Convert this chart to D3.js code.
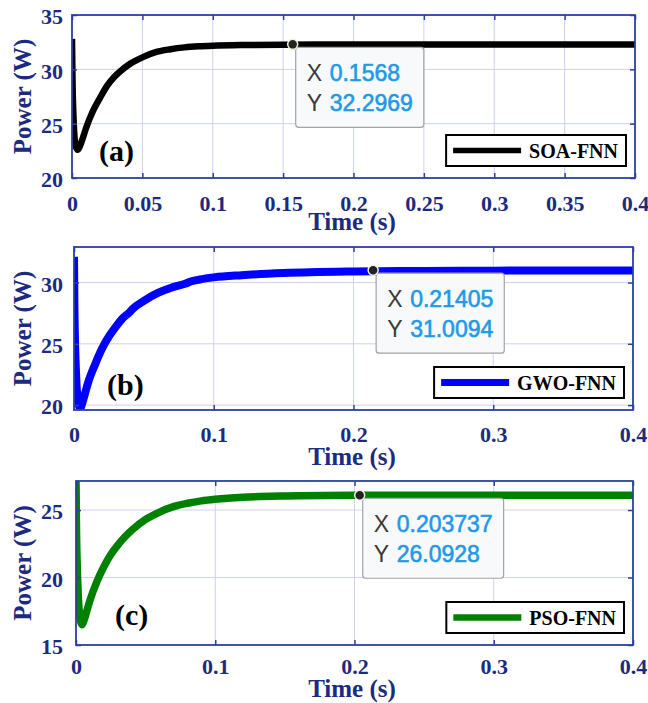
<!DOCTYPE html>
<html>
<head>
<meta charset="utf-8">
<script src="https://cdn.jsdelivr.net/npm/d3@7"></script>
<style>
  body { margin: 0; background: #ffffff; }
  svg { display: block; }
</style>
</head>
<body>
<svg id="fig" width="648" height="703"></svg>
<script>
// ---- data: output power of the three FNN controllers over time ----
const timeA  = [0, 0.0003, 0.0012, 0.0025, 0.004, 0.0055, 0.008, 0.01, 0.015, 0.02, 0.025, 0.03, 0.035, 0.04, 0.05, 0.06, 0.07, 0.08, 0.09, 0.1, 0.12, 0.15, 0.2, 0.25, 0.3, 0.35, 0.4];
const powerA = [32.8, 29.5, 25.2, 23.0, 22.6, 22.9, 23.8, 24.6, 26.2, 27.4, 28.5, 29.3, 29.9, 30.4, 31.1, 31.6, 31.85, 32.02, 32.12, 32.18, 32.24, 32.27, 32.28, 32.28, 32.28, 32.28, 32.28];

const timeB  = [0, 0.0003, 0.0015, 0.003, 0.0045, 0.006, 0.008, 0.01, 0.015, 0.02, 0.025, 0.03, 0.035, 0.04, 0.042, 0.05, 0.06, 0.07, 0.08, 0.084, 0.09, 0.1, 0.12, 0.15, 0.2, 0.25, 0.3, 0.35, 0.4];
const powerB = [32.1, 28.0, 22.5, 20.2, 19.75, 20.2, 21.0, 21.8, 23.3, 24.6, 25.6, 26.4, 27.1, 27.6, 27.85, 28.5, 29.15, 29.6, 29.92, 30.1, 30.25, 30.42, 30.6, 30.77, 30.9, 30.95, 30.97, 30.98, 30.98];

const timeC  = [0, 0.0003, 0.0015, 0.003, 0.0043, 0.006, 0.008, 0.01, 0.015, 0.02, 0.025, 0.03, 0.035, 0.04, 0.05, 0.06, 0.07, 0.08, 0.09, 0.1, 0.12, 0.15, 0.2, 0.25, 0.3, 0.35, 0.4];
const powerC = [27.3, 24.0, 19.0, 16.9, 16.5, 16.9, 17.6, 18.3, 19.7, 20.8, 21.7, 22.4, 23.0, 23.5, 24.3, 24.85, 25.25, 25.5, 25.68, 25.8, 25.95, 26.04, 26.09, 26.1, 26.1, 26.1, 26.1];

const seriesNames = ["SOA-FNN", "GWO-FNN", "PSO-FNN"];
const panelTags   = ["(a)", "(b)", "(c)"];

// data tips
const tipX = [0.1568, 0.21405, 0.203737];
const tipY = [32.2969, 31.0094, 26.0928];

// tick values
const xTicksA = [0, 0.05, 0.1, 0.15, 0.2, 0.25, 0.3, 0.35, 0.4];
const xTicksBC = [0, 0.1, 0.2, 0.3, 0.4];
const yTicksA = [20, 25, 30, 35];
const yTicksB = [20, 25, 30];
const yTicksC = [15, 20, 25];

// ---- layout / style ----
const colors = ["#000000", "#0000ff", "#008000"];
const frameColor = "#2b41a0";
const labelColor = "#1c2a80";
const gridColor = "#cdd1ec";
const serif = "'Liberation Serif','Times New Roman',serif";
const sans = "'Liberation Sans',Arial,sans-serif";

const panels = [
  { t: timeA, p: powerA, xt: xTicksA, yt: yTicksA, yDom: [20, 35],     box: { l: 72, r: 635, t: 15,  b: 178 }, lw: 6.5, xlab: 33, xtitle: 52, tag: [27, -17] },
  { t: timeB, p: powerB, xt: xTicksBC, yt: yTicksB, yDom: [19.6, 32.9], box: { l: 74, r: 633, t: 247, b: 410 }, lw: 8, xlab: 32, xtitle: 55, tag: [33, -15] },
  { t: timeC, p: powerC, xt: xTicksBC, yt: yTicksC, yDom: [15, 27.15],  box: { l: 76, r: 633, t: 481, b: 645 }, lw: 7.5, xlab: 29, xtitle: 52, tag: [39, -20] }
];

const svg = d3.select("#fig");
const fmtTick = v => String(+v.toFixed(2));

panels.forEach((P, i) => {
  const B = P.box;
  const x = d3.scaleLinear().domain([0, 0.4]).range([B.l, B.r]);
  const y = d3.scaleLinear().domain(P.yDom).range([B.b, B.t]);
  const g = svg.append("g");

  // grid
  g.append("g").selectAll("line").data(P.xt.slice(1, -1)).join("line")
    .attr("x1", d => x(d)).attr("x2", d => x(d)).attr("y1", B.t).attr("y2", B.b)
    .attr("stroke", gridColor).attr("stroke-width", 1);
  g.append("g").selectAll("line").data(P.yt.filter(v => y(v) > B.t + 1 && y(v) < B.b - 1)).join("line")
    .attr("x1", B.l).attr("x2", B.r).attr("y1", d => y(d)).attr("y2", d => y(d))
    .attr("stroke", gridColor).attr("stroke-width", 1);

  // data line
  const clipId = "clip" + i;
  svg.append("defs").append("clipPath").attr("id", clipId)
    .append("rect").attr("x", B.l).attr("y", B.t).attr("width", B.r - B.l).attr("height", B.b - B.t);
  const pts = P.t.map((t, k) => [t, P.p[k]]);
  g.append("path").datum(pts)
    .attr("clip-path", `url(#${clipId})`)
    .attr("fill", "none").attr("stroke", colors[i]).attr("stroke-width", P.lw)
    .attr("stroke-linejoin", "round").attr("stroke-linecap", "butt")
    .attr("d", d3.line().x(d => x(d[0])).y(d => y(d[1])).curve(d3.curveMonotoneX));

  // axes (inward ticks on all sides)
  const ax = [
    g.append("g").attr("transform", `translate(0,${B.b})`).call(d3.axisBottom(x).tickValues(P.xt).tickSizeInner(-5).tickSizeOuter(0).tickFormat(fmtTick)),
    g.append("g").attr("transform", `translate(0,${B.t})`).call(d3.axisTop(x).tickValues(P.xt).tickSizeInner(-5).tickSizeOuter(0).tickFormat("")),
    g.append("g").attr("transform", `translate(${B.l},0)`).call(d3.axisLeft(y).tickValues(P.yt).tickSizeInner(-5).tickSizeOuter(0).tickFormat(d3.format("d"))),
    g.append("g").attr("transform", `translate(${B.r},0)`).call(d3.axisRight(y).tickValues(P.yt).tickSizeInner(-5).tickSizeOuter(0).tickFormat(""))
  ];
  ax.forEach(a => {
    a.select(".domain").remove();
    a.selectAll(".tick line").attr("stroke", frameColor).attr("stroke-width", 1.5);
    a.selectAll("text").attr("fill", labelColor).attr("font-family", serif)
      .attr("font-weight", "bold").attr("font-size", 22);
  });
  ax[0].selectAll("text").attr("y", P.xlab).attr("dy", null);
  ax[2].selectAll("text").attr("x", -(B.l - 63)).attr("dy", "0.4em");

  // frame
  g.append("rect").attr("x", B.l).attr("y", B.t).attr("width", B.r - B.l).attr("height", B.b - B.t)
    .attr("fill", "none").attr("stroke", frameColor).attr("stroke-width", 1.8);

  // axis titles
  g.append("text").attr("x", 352).attr("y", B.b + P.xtitle)
    .attr("text-anchor", "middle").attr("font-family", serif).attr("font-weight", "bold")
    .attr("font-size", 25).attr("fill", labelColor).text("Time (s)");
  g.append("text").attr("transform", `translate(31,${(B.t + B.b) / 2}) rotate(-90)`)
    .attr("text-anchor", "middle").attr("font-family", serif).attr("font-weight", "bold")
    .attr("font-size", 25).attr("fill", labelColor).text("Power (W)");

  // panel tag
  g.append("text").attr("x", B.l + P.tag[0]).attr("y", B.b + P.tag[1])
    .attr("font-family", serif).attr("font-weight", "bold").attr("font-size", 30)
    .attr("fill", "#000").text(panelTags[i]);

  // legend
  const leg = g.append("g");
  const legText = leg.append("text").attr("font-family", serif).attr("font-weight", "bold")
    .attr("font-size", 20).attr("fill", "#000").text(seriesNames[i]);
  const tw = legText.node().getComputedTextLength();
  const lw = 83 + tw + 8, lh = 31;
  const lx = B.r - 9 - lw, ly = B.b - 12 - lh;
  leg.insert("rect", "text").attr("x", lx).attr("y", ly).attr("width", lw).attr("height", lh)
    .attr("fill", "#fff").attr("stroke", "#000").attr("stroke-width", 2);
  leg.insert("line", "text").attr("x1", lx + 7).attr("x2", lx + 75).attr("y1", ly + lh / 2).attr("y2", ly + lh / 2)
    .attr("stroke", colors[i]).attr("stroke-width", P.lw - 1);
  legText.attr("x", lx + 83).attr("y", ly + lh / 2 + 7);

  // data tip
  const dx = x(tipX[i]), dy = y(tipY[i]);
  const bx = dx + 3, by = dy + 3;
  const tip = g.append("g");
  const rectT = tip.append("rect");
  const rows = [["X", tipX[i]], ["Y", tipY[i]]];
  const vals = [];
  rows.forEach((r, k) => {
    const t = tip.append("text").attr("font-family", sans).attr("font-size", 23).attr("y", by + 34 + 30 * k);
    t.append("tspan").attr("x", bx + 11).attr("fill", "#3a3a3a").text(r[0]);
    vals.push(t.append("tspan").attr("x", bx + 34).attr("fill", "#1f9ae6")
      .attr("stroke", "#1f9ae6").attr("stroke-width", 0.6).text(String(r[1])));
  });
  const vw = d3.max(vals, v => v.node().getComputedTextLength());
  rectT.attr("x", bx).attr("y", by).attr("width", 34 + vw + 11).attr("height", 80)
    .attr("rx", 3).attr("fill", "#f8f9fa").attr("stroke", "#a3a3a3").attr("stroke-width", 1.2);
  tip.append("circle").attr("cx", dx).attr("cy", dy).attr("r", 5)
    .attr("fill", "#222").attr("stroke", "#f3f1de").attr("stroke-width", 1.5);
});
</script>
</body>
</html>
